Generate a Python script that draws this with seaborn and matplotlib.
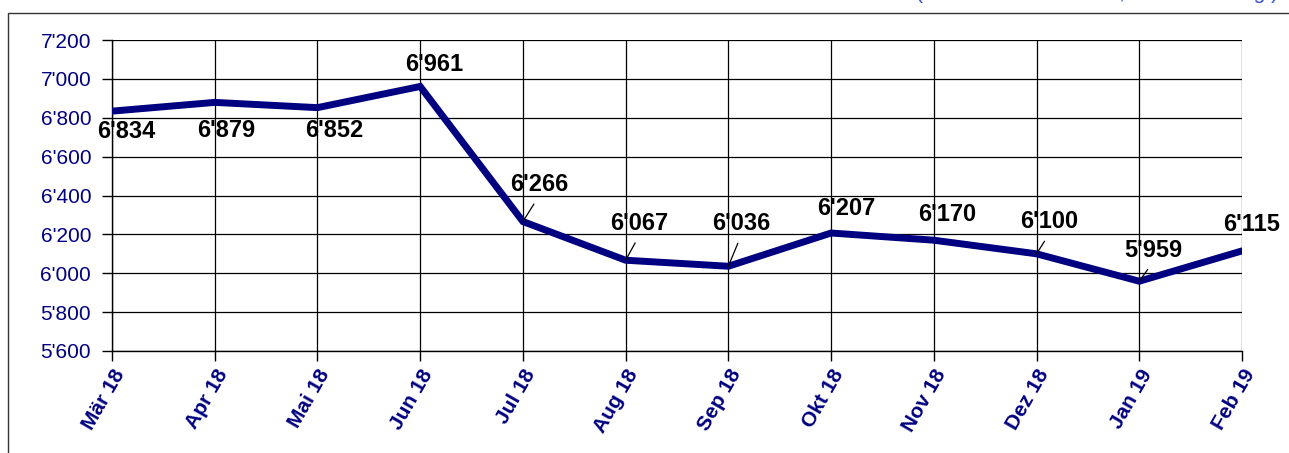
import matplotlib
matplotlib.use("Agg")
import matplotlib.pyplot as plt
import seaborn as sns
import pandas as pd
from matplotlib.patches import Rectangle

months = ["Mär 18", "Apr 18", "Mai 18", "Jun 18", "Jul 18", "Aug 18",
          "Sep 18", "Okt 18", "Nov 18", "Dez 18", "Jan 19", "Feb 19"]
values = [6834, 6879, 6852, 6961, 6266, 6067, 6036, 6207, 6170, 6100, 5959, 6115]
yticks = [5600, 5800, 6000, 6200, 6400, 6600, 6800, 7000, 7200]

sns.set_theme(style="white")
plt.rcParams["font.family"] = ["Liberation Sans", "DejaVu Sans"]

NAVY = "#000080"

fig = plt.figure(figsize=(12.89, 4.53), dpi=100)
ax = fig.add_axes([112/1289, 1-351/453, (1242-112)/1289, (351-40)/453])

df = pd.DataFrame({"month": months, "value": values})
sns.lineplot(data=df, x="month", y="value", sort=False, ax=ax,
             color=NAVY, linewidth=5, solid_joinstyle="miter", zorder=3)

ax.set_xlim(0, len(months) - 1)
ax.set_ylim(5600, 7200)
ax.set_yticks(yticks)
ax.set_yticklabels([f"{v:,}".replace(",", "'") for v in yticks],
                   color=NAVY, fontsize=15)
ax.set_xticks(range(len(months)))
ax.set_xticklabels(months, rotation=60, ha="right", rotation_mode="anchor",
                   color=NAVY, fontsize=15, fontweight="bold")
ax.set_xlabel("")
ax.set_ylabel("")
ax.grid(True, color="black", linewidth=0.9)
for s in ["top", "right"]:
    ax.spines[s].set_visible(False)
for s in ["left", "bottom"]:
    ax.spines[s].set_color("black")
    ax.spines[s].set_linewidth(1.0)
ax.tick_params(axis="both", which="both", length=7, width=1, color="black",
               direction="out", left=True, bottom=True)
ax.tick_params(axis="y", pad=8)
ax.tick_params(axis="x", pad=4)

# label offsets in pixels (dx, dy) and whether a leader line is drawn
offsets = [(14, -20, False), (11, -28, False), (17, -23, False), (14, 22, False),
           (16, 37, True), (14, 37, True), (13, 43, True), (15, 25, False),
           (13, 26, False), (13, 32, True), (14, 31, True), (10, 26, False)]
for i, (v, (dx, dy, lead)) in enumerate(zip(values, offsets)):
    lbl = f"{v:,}".replace(",", "'")
    kw = {}
    if lead:
        kw["arrowprops"] = dict(arrowstyle="-", color="black", lw=0.9,
                                shrinkA=4, shrinkB=0, relpos=(0.5, 0.0))
    ax.annotate(lbl, xy=(i, v), xytext=(dx, dy), textcoords="offset pixels",
                ha="center", va="center", fontsize=17, fontweight="bold",
                color="black", zorder=5, annotation_clip=False, **kw)

# outer frame
fig.patches.append(Rectangle((8/1289, -0.05), 1.1, 1 - 13/453 + 0.05,
                             transform=fig.transFigure, fill=False,
                             edgecolor="#333333", linewidth=1.0))

# subtitle at the top right, cut off by the top edge as in the original
fig.text(1278/1289, 1 + 1/453, "(in Tausend Personen, saisonbereinigt)",
         ha="right", va="baseline", color="#3050d0", fontsize=15)

fig.savefig("out.png", dpi=100)
